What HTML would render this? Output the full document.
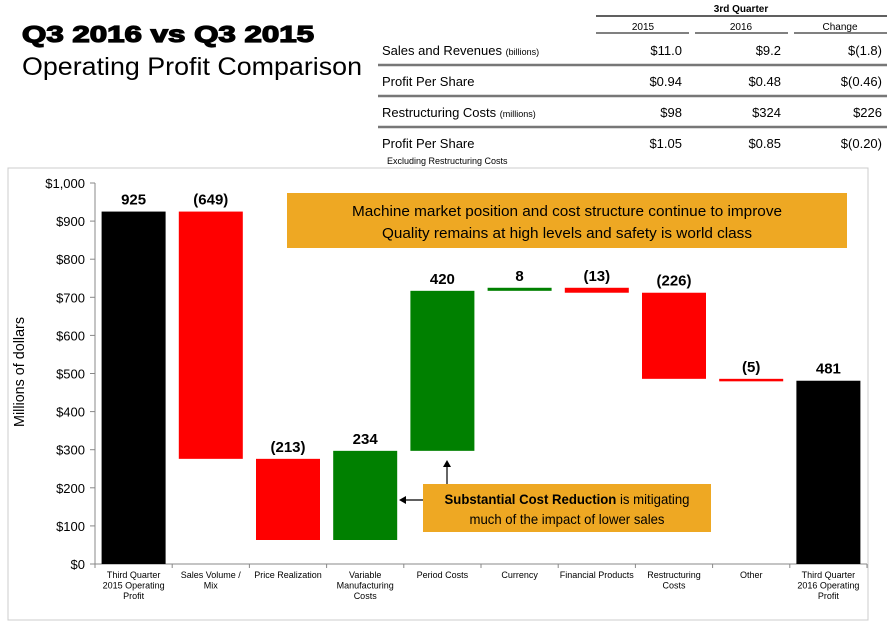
<!DOCTYPE html>
<html><head><meta charset="utf-8"><style>
body{margin:0;background:#fff;width:887px;height:635px;overflow:hidden;font-family:"Liberation Sans",Arial,sans-serif}
svg{display:block}
</style></head><body>
<svg id="c" width="887" height="635" xmlns="http://www.w3.org/2000/svg" font-family="Liberation Sans, Arial, sans-serif">
<text x="22" y="42" font-size="23" font-weight="bold" stroke="#000" stroke-width="1.3" textLength="292" lengthAdjust="spacingAndGlyphs">Q3 2016 vs Q3 2015</text>
<text x="22" y="75" font-size="25" textLength="340" lengthAdjust="spacingAndGlyphs">Operating Profit Comparison</text>
<g font-size="13">
<text x="741" y="12" font-size="10" font-weight="bold" text-anchor="middle">3rd Quarter</text>
<line x1="596" y1="16" x2="887" y2="16" stroke="#000" stroke-width="1.2"/>
<text x="643" y="30" font-size="10" text-anchor="middle">2015</text>
<text x="741" y="30" font-size="10" text-anchor="middle">2016</text>
<text x="840" y="30" font-size="10" text-anchor="middle">Change</text>
<line x1="596" y1="33" x2="689" y2="33" stroke="#000"/><line x1="695" y1="33" x2="788" y2="33" stroke="#000"/><line x1="794" y1="33" x2="887" y2="33" stroke="#000"/>
<text x="382" y="55">Sales and Revenues <tspan font-size="9">(billions)</tspan></text>
<text x="682" y="55" text-anchor="end">$11.0</text><text x="781" y="55" text-anchor="end">$9.2</text><text x="882" y="55" text-anchor="end">$(1.8)</text>
<line x1="378" y1="65" x2="887" y2="65" stroke="#777" stroke-width="2.5"/>
<text x="382" y="86">Profit Per Share</text>
<text x="682" y="86" text-anchor="end">$0.94</text><text x="781" y="86" text-anchor="end">$0.48</text><text x="882" y="86" text-anchor="end">$(0.46)</text>
<line x1="378" y1="96" x2="887" y2="96" stroke="#777" stroke-width="2.5"/>
<text x="382" y="117">Restructuring Costs <tspan font-size="9">(millions)</tspan></text>
<text x="682" y="117" text-anchor="end">$98</text><text x="781" y="117" text-anchor="end">$324</text><text x="882" y="117" text-anchor="end">$226</text>
<line x1="378" y1="127" x2="887" y2="127" stroke="#777" stroke-width="2.5"/>
<text x="382" y="148">Profit Per Share</text>
<text x="682" y="148" text-anchor="end">$1.05</text><text x="781" y="148" text-anchor="end">$0.85</text><text x="882" y="148" text-anchor="end">$(0.20)</text>
<text x="387" y="164" font-size="9">Excluding Restructuring Costs</text>
</g>
<rect x="8" y="168" width="860" height="452" fill="none" stroke="#ccc"/>
<text transform="translate(24,372) rotate(-90)" font-size="15" text-anchor="middle" textLength="110" lengthAdjust="spacingAndGlyphs">Millions of dollars</text>
<g id="axes"></g><g id="bars"></g>
<g>
<rect x="287" y="193" width="560" height="55" fill="#EEA823"/>
<text x="567" y="216" font-size="15" text-anchor="middle" textLength="430" lengthAdjust="spacingAndGlyphs">Machine market position and cost structure continue to improve</text>
<text x="567" y="238" font-size="15" text-anchor="middle" textLength="370" lengthAdjust="spacingAndGlyphs">Quality remains at high levels and safety is world class</text>
</g>
<g>
<rect x="423" y="484" width="288" height="48" fill="#EEA823"/>
<text x="567" y="504" font-size="14" text-anchor="middle" textLength="245" lengthAdjust="spacingAndGlyphs"><tspan font-weight="bold">Substantial Cost Reduction</tspan> is mitigating</text>
<text x="567" y="524" font-size="14" text-anchor="middle" textLength="195" lengthAdjust="spacingAndGlyphs">much of the impact of lower sales</text>
<line x1="423" y1="500" x2="404" y2="500" stroke="#000" stroke-width="1.2"/><polygon points="399,500 406,496 406,504" fill="#000"/>
<line x1="447" y1="484" x2="447" y2="466" stroke="#000" stroke-width="1.2"/><polygon points="447,460 443,467 451,467" fill="#000"/>
</g>
</svg>
<script>
const categories=["Third Quarter|2015 Operating|Profit","Sales Volume /|Mix","Price Realization","Variable|Manufacturing|Costs","Period Costs","Currency","Financial Products","Restructuring|Costs","Other","Third Quarter|2016 Operating|Profit"];
const values=[925,-649,-213,234,420,8,-13,-226,-5,481];
const isTotal=[true,false,false,false,false,false,false,false,false,true];
const labels=["925","(649)","(213)","234","420","8","(13)","(226)","(5)","481"];
const yTicks=[0,100,200,300,400,500,600,700,800,900,1000];
const tickLabels=["$0","$100","$200","$300","$400","$500","$600","$700","$800","$900","$1,000"];
const NS="http://www.w3.org/2000/svg";
const x0=95,step=77.2,bw=64,yBase=564,yTop=183;
const y=v=>yBase-(v/1000)*(yBase-yTop);
const cx=i=>x0+step*(i+0.5);
function mk(t,a,p){const e=document.createElementNS(NS,t);for(const k in a)e.setAttribute(k,a[k]);p.appendChild(e);return e;}
const ax=document.getElementById('axes'),bg=document.getElementById('bars');
let e=mk('line',{x1:x0,y1:yTop,x2:x0,y2:yBase,stroke:'#888'},ax);


e=mk('line',{x1:x0,y1:yBase,x2:x0+step*10,y2:yBase,stroke:'#888'},ax);


yTicks.forEach((v,i)=>{
 mk('line',{x1:x0-5,y1:y(v),x2:x0,y2:y(v),stroke:'#888'},ax);
 const t=mk('text',{x:x0-10,y:y(v)+5,'font-size':13,'text-anchor':'end'},ax);t.textContent=tickLabels[i];
 
 
});
for(let k=0;k<=10;k++)mk('line',{x1:x0+step*k,y1:yBase,x2:x0+step*k,y2:yBase+4,stroke:'#888'},ax);
let run=0;
values.forEach((v,i)=>{
 let a,b,col;
 if(isTotal[i]){a=0;b=v;run=v;col='#000';}
 else{a=run;b=run+v;run=b;col=v>=0?'#008000':'#FF0000';}
 const top=y(Math.max(a,b)),h=Math.max(y(Math.min(a,b))-top,2.5);
 const r=mk('rect',{x:cx(i)-bw/2,y:top,width:bw,height:h,fill:col},bg);
 
 
 const t=mk('text',{x:cx(i),y:top-7,'font-size':15,'font-weight':'bold','text-anchor':'middle'},bg);t.textContent=labels[i];
 
 
 const lines=categories[i].split('|');
 const g=mk('text',{'font-size':9,'text-anchor':'middle'},ax);
 
 
 lines.forEach((l,j)=>{const s=mk('tspan',{x:cx(i),y:578+j*10.5},g);s.textContent=l;});
});
</script>
</body></html>
